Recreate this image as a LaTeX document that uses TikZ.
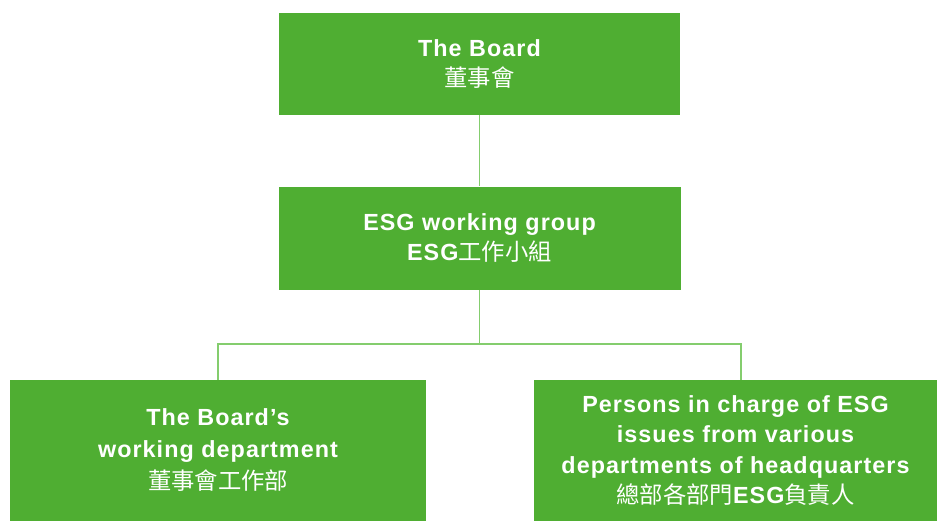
\documentclass[tikz,border=0pt]{standalone}
\usepackage{fontspec}
\setmainfont{Liberation Sans}[LetterSpace=4.5]
\newfontfamily\cjk{Noto Sans CJK TC}
\newcommand\zhtext[1]{{\cjk\mdseries #1}}
\usetikzlibrary{positioning}
\definecolor{cgreen}{HTML}{4FAE32}
\definecolor{clink}{HTML}{84CD6E}
\tikzset{
  every picture/.style={font=\fontsize{17.5}{22.6}\selectfont\bfseries},
  box/.style={fill=cgreen, text=white, align=center, inner sep=0pt},
  link/.style={draw=clink, line width=1.4pt},
}
\begin{document}
\begin{tikzpicture}[x=0.75pt, y=-0.75pt]
  \useasboundingbox (0,0) rectangle (937,521);
  \node[box, minimum width=300.75pt, minimum height=76.5pt] (board) at (479.5,64) {The Board\\\zhtext{董事會}};
  \node[box, minimum width=301.5pt, minimum height=77.25pt, below=53.25pt of board] (group) {ESG working group\\ESG\zhtext{工作小組}};
  \node[box, minimum width=312pt, minimum height=105.75pt, font=\fontsize{17.5}{24}\selectfont\bfseries] (dept) at (218,450.5) {The Board’s\\working department\\\zhtext{董事會工作部}};
  \node[box, minimum width=302.25pt, minimum height=105.75pt] (heads) at (735.5,450.5) {Persons in charge of ESG\\issues from various\\departments of headquarters\\\zhtext{總部各部門}ESG\zhtext{負責人}};
  \draw[link] (board) -- (group);
  \draw[link] (group.south) -- ++(0,54) coordinate (split) -| (dept.north);
  \draw[link] (split) -| ([xshift=4.1pt]heads.north);
\end{tikzpicture}
\end{document}
